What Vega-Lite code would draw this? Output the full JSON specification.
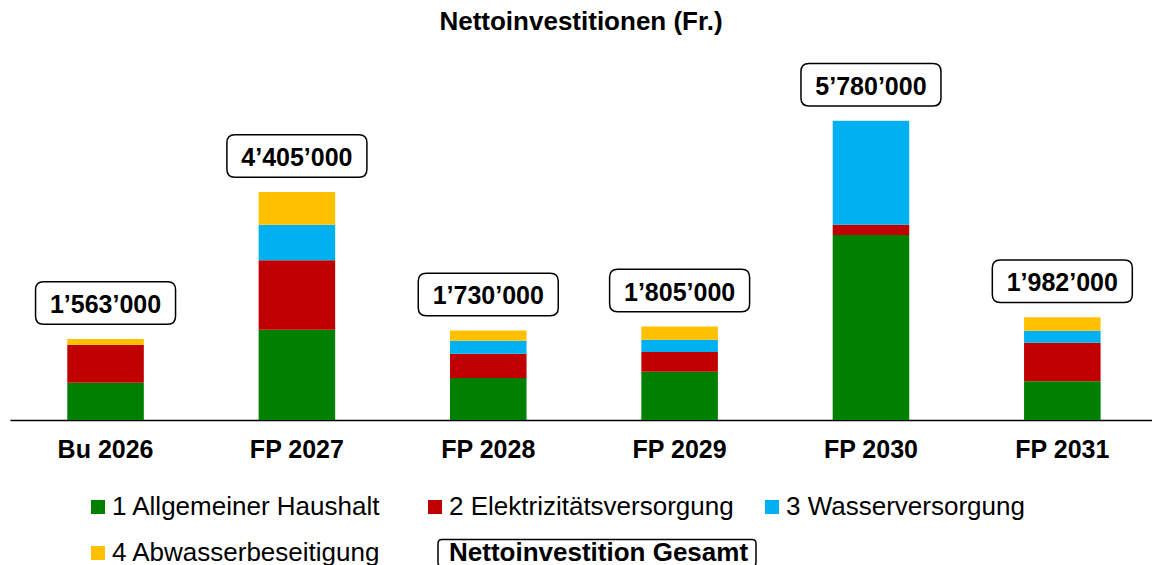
{
  "$schema": "https://vega.github.io/schema/vega-lite/v6.json",
  "width": 1142,
  "height": 362.5,
  "autosize": {"type": "none"},
  "padding": {"left": 10, "top": 57.5, "right": 0, "bottom": 145},
  "background": "white",
  "title": {
    "text": "Nettoinvestitionen (Fr.)",
    "font": "Liberation Sans",
    "fontSize": 26,
    "fontWeight": "bold",
    "color": "#000000",
    "anchor": "middle",
    "baseline": "alphabetic",
    "offset": 1.5,
    "frame": "group"
  },
  "config": {
    "view": {"stroke": null},
    "font": "Liberation Sans",
    "locale": {
      "number": {"decimal": ".", "thousands": "’", "grouping": [3], "currency": ["", ""]}
    }
  },
  "data": {
    "values": [
      {"period": "Bu 2026", "category": "1 Allgemeiner Haushalt", "value": 720000},
      {"period": "Bu 2026", "category": "2 Elektrizitätsversorgung", "value": 734000},
      {"period": "Bu 2026", "category": "3 Wasserversorgung", "value": 0},
      {"period": "Bu 2026", "category": "4 Abwasserbeseitigung", "value": 109000},
      {"period": "FP 2027", "category": "1 Allgemeiner Haushalt", "value": 1744000},
      {"period": "FP 2027", "category": "2 Elektrizitätsversorgung", "value": 1340000},
      {"period": "FP 2027", "category": "3 Wasserversorgung", "value": 688000},
      {"period": "FP 2027", "category": "4 Abwasserbeseitigung", "value": 633000},
      {"period": "FP 2028", "category": "1 Allgemeiner Haushalt", "value": 811000},
      {"period": "FP 2028", "category": "2 Elektrizitätsversorgung", "value": 469000},
      {"period": "FP 2028", "category": "3 Wasserversorgung", "value": 252000},
      {"period": "FP 2028", "category": "4 Abwasserbeseitigung", "value": 198000},
      {"period": "FP 2029", "category": "1 Allgemeiner Haushalt", "value": 933000},
      {"period": "FP 2029", "category": "2 Elektrizitätsversorgung", "value": 380000},
      {"period": "FP 2029", "category": "3 Wasserversorgung", "value": 238000},
      {"period": "FP 2029", "category": "4 Abwasserbeseitigung", "value": 254000},
      {"period": "FP 2030", "category": "1 Allgemeiner Haushalt", "value": 3573000},
      {"period": "FP 2030", "category": "2 Elektrizitätsversorgung", "value": 199000},
      {"period": "FP 2030", "category": "3 Wasserversorgung", "value": 2008000},
      {"period": "FP 2030", "category": "4 Abwasserbeseitigung", "value": 0},
      {"period": "FP 2031", "category": "1 Allgemeiner Haushalt", "value": 747000},
      {"period": "FP 2031", "category": "2 Elektrizitätsversorgung", "value": 746000},
      {"period": "FP 2031", "category": "3 Wasserversorgung", "value": 232000},
      {"period": "FP 2031", "category": "4 Abwasserbeseitigung", "value": 257000}
    ]
  },
  "encoding": {
    "x": {
      "field": "period",
      "type": "nominal",
      "sort": null,
      "scale": {"paddingInner": 0.6, "paddingOuter": 0.284, "align": 0.527},
      "axis": {
        "title": null,
        "labelFont": "Liberation Sans",
        "labelFontSize": 25,
        "labelFontWeight": "bold",
        "labelColor": "#000000",
        "labelAngle": 0,
        "ticks": false,
        "tickSize": 0,
        "labelPadding": 37,
        "labelBaseline": "alphabetic",
        "domainColor": "#000000",
        "domainWidth": 1.5,
        "grid": false
      }
    }
  },
  "layer": [
    {
      "mark": {"type": "bar"},
      "encoding": {
        "y": {
          "field": "value",
          "type": "quantitative",
          "aggregate": "sum",
          "stack": "zero",
          "scale": {"domain": [0, 7000000], "nice": false},
          "axis": null
        },
        "color": {
          "field": "category",
          "type": "nominal",
          "scale": {
            "domain": ["1 Allgemeiner Haushalt", "2 Elektrizitätsversorgung", "3 Wasserversorgung", "4 Abwasserbeseitigung", "Nettoinvestition Gesamt"],
            "range": ["#008000", "#C00000", "#00B0F0", "#FFC000", "#FFFFFF"]
          },
          "legend": {
            "orient": "none",
            "legendX": 75,
            "legendY": 434.5,
            "direction": "horizontal",
            "columns": 3,
            "title": null,
            "padding": 0,
            "symbolType": "square",
            "symbolSize": 196,
            "symbolStrokeWidth": 0,
            "labelFont": "Liberation Sans",
            "labelFontSize": 26,
            "labelColor": "#000000",
            "labelOffset": 1,
            "labelBaseline": "middle",
            "labelLimit": 500,
            "gridAlign": "all",
            "columnPadding": 0,
            "rowPadding": 14,
            "encode": {
              "symbols": {
                "update": {
                  "shape": {"signal": "datum.value === 'Nettoinvestition Gesamt' ? 'M7,-13.5H317Q321,-13.5 321,-9.5V9.5Q321,13.5 317,13.5H7Q3,13.5 3,9.5V-9.5Q3,-13.5 7,-13.5Z' : 'square'"},
                  "size": {"signal": "datum.value === 'Nettoinvestition Gesamt' ? 4 : 196"},
                  "fill": {"signal": "datum.value === 'Nettoinvestition Gesamt' ? 'transparent' : scale('color', datum.value)"},
                  "stroke": {"signal": "datum.value === 'Nettoinvestition Gesamt' ? '#000000' : 'transparent'"},
                  "strokeWidth": {"signal": "datum.value === 'Nettoinvestition Gesamt' ? 1.5 : 0"},
                  "opacity": {"value": 1}
                }
              },
              "labels": {
                "update": {
                  "fontWeight": {"signal": "datum.value === 'Nettoinvestition Gesamt' ? 'bold' : 'normal'"}
                }
              }
            }
          }
        },
        "order": {"field": "category", "sort": "ascending"}
      }
    },
    {
      "transform": [{"aggregate": [{"op": "sum", "field": "value", "as": "total"}], "groupby": ["period"]}],
      "mark": {
        "type": "point",
        "shape": "M-62,-21.25H62Q70,-21.25 70,-13.25V13.25Q70,21.25 62,21.25H-62Q-70,21.25 -70,13.25V-13.25Q-70,-21.25 -62,-21.25Z",
        "size": 4,
        "filled": true,
        "fill": "#FFFFFF",
        "stroke": "#000000",
        "strokeWidth": 1.5,
        "opacity": 1,
        "fillOpacity": 1,
        "yOffset": -36
      },
      "encoding": {
        "y": {"field": "total", "type": "quantitative"}
      }
    },
    {
      "transform": [{"aggregate": [{"op": "sum", "field": "value", "as": "total"}], "groupby": ["period"]}],
      "mark": {
        "type": "text",
        "font": "Liberation Sans",
        "fontSize": 25,
        "fontWeight": "bold",
        "color": "#000000",
        "align": "center",
        "baseline": "alphabetic",
        "yOffset": -26
      },
      "encoding": {
        "y": {"field": "total", "type": "quantitative"},
        "text": {"field": "total", "type": "quantitative", "format": ",d"}
      }
    }
  ]
}
